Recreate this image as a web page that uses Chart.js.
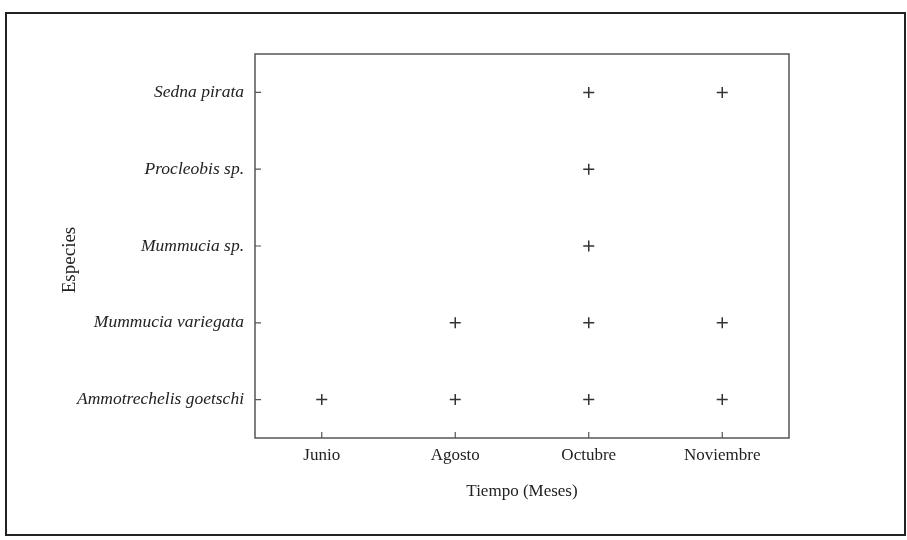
<!DOCTYPE html>
<html>
<head>
<meta charset="utf-8">
<script src="https://cdn.jsdelivr.net/npm/chart.js@4"></script>
<style>
  html, body { margin: 0; padding: 0; background: #fff; }
  #wrap { position: relative; width: 907px; height: 540px; }
  #frame { position: absolute; left: 5px; top: 12px; width: 897px; height: 520px; border: 2px solid #222; }
  canvas { position: absolute; left: 0; top: 0; }
</style>
</head>
<body>
<div id="wrap">
  <div id="frame"></div>
  <canvas id="chart" width="907" height="540"></canvas>
</div>
<script>
// ── data ──
const months = ['Junio', 'Agosto', 'Octubre', 'Noviembre'];
const species = ['Sedna pirata', 'Procleobis sp.', 'Mummucia sp.', 'Mummucia variegata', 'Ammotrechelis goetschi'];
// months in which each species was recorded
const sednaPirata = ['Octubre', 'Noviembre'];
const procleobis = ['Octubre'];
const mummuciaSp = ['Octubre'];
const mummuciaVariegata = ['Agosto', 'Octubre', 'Noviembre'];
const ammotrechelis = ['Junio', 'Agosto', 'Octubre', 'Noviembre'];

const records = [sednaPirata, procleobis, mummuciaSp, mummuciaVariegata, ammotrechelis];
const points = [];
records.forEach((list, i) => {
  list.forEach(m => points.push({ x: m, y: species[i] }));
});

const serif = "'Liberation Serif', 'Times New Roman', serif";
const axisColor = '#555';

// frame round the plot, short inward ticks, y title (sits a bit below the axis middle)
const frameTicks = {
  id: 'frameTicks',
  afterDraw(chart) {
    const { ctx, chartArea: a, scales } = chart;
    ctx.save();
    ctx.strokeStyle = axisColor;
    ctx.lineWidth = 1.5;
    ctx.strokeRect(a.left, a.top, a.right - a.left, a.bottom - a.top);
    ctx.lineWidth = 1.2;
    ctx.beginPath();
    scales.x.ticks.forEach((t, i) => {
      const px = scales.x.getPixelForTick(i);
      ctx.moveTo(px, a.bottom);
      ctx.lineTo(px, a.bottom - 6);
    });
    scales.y.ticks.forEach((t, i) => {
      const py = scales.y.getPixelForTick(i);
      ctx.moveTo(a.left, py);
      ctx.lineTo(a.left + 6, py);
    });
    ctx.stroke();

    ctx.translate(70, (a.top + a.bottom) / 2 + 14);
    ctx.rotate(-Math.PI / 2);
    ctx.fillStyle = '#222';
    ctx.font = '19px ' + serif;
    ctx.textAlign = 'center';
    ctx.textBaseline = 'middle';
    ctx.fillText('Especies', 0, 0);
    ctx.restore();
  }
};

new Chart(document.getElementById('chart'), {
  type: 'scatter',
  data: {
    datasets: [{
      data: points,
      pointStyle: 'cross',
      pointRadius: 5.5,
      pointHoverRadius: 5.5,
      borderColor: '#333',
      backgroundColor: '#333',
      borderWidth: 1.5
    }]
  },
  options: {
    responsive: false,
    animation: false,
    layout: { padding: { left: 0, right: 118, top: 54, bottom: 0 } },
    plugins: { legend: { display: false }, tooltip: { enabled: false } },
    scales: {
      x: {
        type: 'category',
        labels: months,
        offset: true,
        grid: { display: false, drawTicks: false },
        border: { display: false },
        ticks: { color: '#222', padding: 7, font: { family: serif, size: 17 } },
        title: { display: true, text: 'Tiempo (Meses)', color: '#222', padding: { top: 4, bottom: 38 }, font: { family: serif, size: 17 } },
        afterFit: (s) => { s.height = 102; }
      },
      y: {
        type: 'category',
        labels: species,
        offset: true,
        grid: { display: false, drawTicks: false },
        border: { display: false },
        ticks: { color: '#222', padding: 11, font: { family: serif, size: 17.5, style: 'italic' } },
        afterFit: (s) => { s.width = 255; }
      }
    }
  },
  plugins: [frameTicks]
});
</script>
</body>
</html>
